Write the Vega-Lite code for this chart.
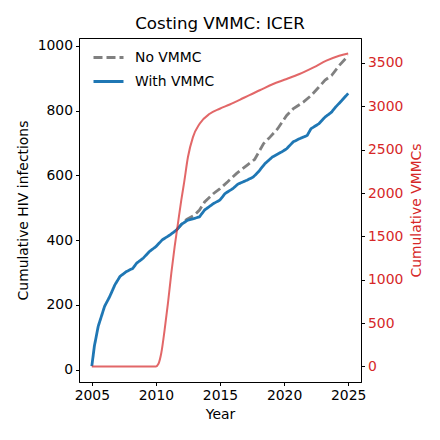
{
  "$schema": "https://vega.github.io/schema/vega-lite/v6.json",
  "width": 282,
  "height": 344,
  "autosize": {"type": "none"},
  "padding": {"left": 79, "top": 38, "right": 79, "bottom": 58},
  "title": {"text": "Costing VMMC: ICER", "fontSize": 16.7, "fontWeight": "normal", "font": "DejaVu Sans", "color": "black", "offset": 5, "anchor": "middle"},
  "config": {
    "font": "DejaVu Sans",
    "background": "white",
    "view": {"stroke": "black", "strokeWidth": 1},
    "axis": {"grid": false, "domainColor": "black", "tickColor": "black", "tickSize": 3.5, "tickWidth": 1, "domainWidth": 1, "labelPadding": 3, "labelFontSize": 13.9, "titleFontSize": 13.9, "titleFontWeight": "normal", "labelColor": "black", "titleColor": "black", "labelFont": "DejaVu Sans", "titleFont": "DejaVu Sans"},
    "legend": {"orient": "none", "legendX": 13, "legendY": 3, "title": null, "symbolType": "stroke", "symbolSize": 900, "symbolStrokeWidth": 2.8, "labelFontSize": 13.9, "labelFont": "DejaVu Sans", "labelColor": "black", "labelOffset": 10, "padding": 0, "rowPadding": -12}
  },
  "datasets": {
    "inf": [
      {"year": 2005.0, "series": "With VMMC", "value": 11},
      {"year": 2005.2, "series": "With VMMC", "value": 73},
      {"year": 2005.5, "series": "With VMMC", "value": 134},
      {"year": 2006.0, "series": "With VMMC", "value": 196},
      {"year": 2006.4, "series": "With VMMC", "value": 226},
      {"year": 2006.8, "series": "With VMMC", "value": 262},
      {"year": 2007.2, "series": "With VMMC", "value": 288},
      {"year": 2007.7, "series": "With VMMC", "value": 303},
      {"year": 2008.2, "series": "With VMMC", "value": 313},
      {"year": 2008.5, "series": "With VMMC", "value": 329},
      {"year": 2009.0, "series": "With VMMC", "value": 344},
      {"year": 2009.5, "series": "With VMMC", "value": 365},
      {"year": 2010.0, "series": "With VMMC", "value": 380},
      {"year": 2010.5, "series": "With VMMC", "value": 401},
      {"year": 2011.1, "series": "With VMMC", "value": 416},
      {"year": 2011.6, "series": "With VMMC", "value": 431},
      {"year": 2012.0, "series": "With VMMC", "value": 449},
      {"year": 2012.5, "series": "With VMMC", "value": 462},
      {"year": 2013.0, "series": "With VMMC", "value": 467},
      {"year": 2013.4, "series": "With VMMC", "value": 472},
      {"year": 2013.8, "series": "With VMMC", "value": 493},
      {"year": 2014.5, "series": "With VMMC", "value": 513},
      {"year": 2015.0, "series": "With VMMC", "value": 524},
      {"year": 2015.4, "series": "With VMMC", "value": 544},
      {"year": 2016.0, "series": "With VMMC", "value": 559},
      {"year": 2016.4, "series": "With VMMC", "value": 573},
      {"year": 2017.1, "series": "With VMMC", "value": 585},
      {"year": 2017.6, "series": "With VMMC", "value": 595},
      {"year": 2018.0, "series": "With VMMC", "value": 611},
      {"year": 2018.5, "series": "With VMMC", "value": 636},
      {"year": 2019.1, "series": "With VMMC", "value": 657},
      {"year": 2019.8, "series": "With VMMC", "value": 672},
      {"year": 2020.2, "series": "With VMMC", "value": 682},
      {"year": 2020.7, "series": "With VMMC", "value": 703},
      {"year": 2021.2, "series": "With VMMC", "value": 713},
      {"year": 2021.8, "series": "With VMMC", "value": 723},
      {"year": 2022.1, "series": "With VMMC", "value": 744},
      {"year": 2022.7, "series": "With VMMC", "value": 759},
      {"year": 2023.2, "series": "With VMMC", "value": 780},
      {"year": 2023.7, "series": "With VMMC", "value": 795},
      {"year": 2024.0, "series": "With VMMC", "value": 810},
      {"year": 2024.5, "series": "With VMMC", "value": 831},
      {"year": 2025.0, "series": "With VMMC", "value": 853},
      {"year": 2011.6, "series": "No VMMC", "value": 431},
      {"year": 2012.0, "series": "No VMMC", "value": 449},
      {"year": 2012.4, "series": "No VMMC", "value": 464},
      {"year": 2013.0, "series": "No VMMC", "value": 477},
      {"year": 2013.4, "series": "No VMMC", "value": 493},
      {"year": 2013.8, "series": "No VMMC", "value": 518},
      {"year": 2014.5, "series": "No VMMC", "value": 544},
      {"year": 2015.0, "series": "No VMMC", "value": 559},
      {"year": 2015.6, "series": "No VMMC", "value": 580},
      {"year": 2016.3, "series": "No VMMC", "value": 606},
      {"year": 2017.1, "series": "No VMMC", "value": 631},
      {"year": 2017.7, "series": "No VMMC", "value": 649},
      {"year": 2018.4, "series": "No VMMC", "value": 698},
      {"year": 2018.9, "series": "No VMMC", "value": 718},
      {"year": 2019.5, "series": "No VMMC", "value": 744},
      {"year": 2020.2, "series": "No VMMC", "value": 785},
      {"year": 2020.7, "series": "No VMMC", "value": 805},
      {"year": 2021.5, "series": "No VMMC", "value": 826},
      {"year": 2022.1, "series": "No VMMC", "value": 846},
      {"year": 2022.7, "series": "No VMMC", "value": 872},
      {"year": 2023.2, "series": "No VMMC", "value": 894},
      {"year": 2023.7, "series": "No VMMC", "value": 908},
      {"year": 2024.3, "series": "No VMMC", "value": 939},
      {"year": 2025.0, "series": "No VMMC", "value": 969}
    ],
    "vmmc": [
      {"year": 2005.0, "vmmc": 0},
      {"year": 2010.0, "vmmc": 0},
      {"year": 2010.2, "vmmc": 30},
      {"year": 2010.42, "vmmc": 154},
      {"year": 2010.68, "vmmc": 422},
      {"year": 2010.94, "vmmc": 729},
      {"year": 2011.2, "vmmc": 1074},
      {"year": 2011.46, "vmmc": 1380},
      {"year": 2011.72, "vmmc": 1650},
      {"year": 2011.98, "vmmc": 1917},
      {"year": 2012.2, "vmmc": 2120},
      {"year": 2012.5, "vmmc": 2415},
      {"year": 2012.89, "vmmc": 2645},
      {"year": 2013.41, "vmmc": 2799},
      {"year": 2014.2, "vmmc": 2914},
      {"year": 2014.98, "vmmc": 2972},
      {"year": 2015.76, "vmmc": 3021},
      {"year": 2016.54, "vmmc": 3075},
      {"year": 2017.3, "vmmc": 3130},
      {"year": 2018.1, "vmmc": 3185},
      {"year": 2019.1, "vmmc": 3255},
      {"year": 2020.2, "vmmc": 3315},
      {"year": 2021.2, "vmmc": 3373},
      {"year": 2022.3, "vmmc": 3450},
      {"year": 2023.3, "vmmc": 3526},
      {"year": 2024.3, "vmmc": 3584},
      {"year": 2025.0, "vmmc": 3610}
    ]
  },
  "layer": [
    {
      "data": {"name": "inf"},
      "encoding": {
        "x": {"field": "year", "type": "quantitative", "scale": {"domain": [2004, 2026], "nice": false, "zero": false}, "axis": {"values": [2005, 2010, 2015, 2020, 2025], "format": "d", "title": "Year", "titlePadding": 5}},
        "y": {"field": "value", "type": "quantitative", "scale": {"domain": [-38, 1024], "nice": false, "zero": false}, "axis": {"values": [0, 200, 400, 600, 800, 1000], "format": "d", "title": "Cumulative HIV infections", "titlePadding": 7}},
        "color": {"field": "series", "type": "nominal", "scale": {"domain": ["No VMMC", "With VMMC"], "range": ["#808080", "#1f77b4"]}},
        "strokeDash": {"field": "series", "type": "nominal", "scale": {"domain": ["No VMMC", "With VMMC"], "range": [[9, 4], [1, 0]]}}
      },
      "layer": [
        {"transform": [{"filter": "datum.series === 'No VMMC'"}], "mark": {"type": "line", "strokeWidth": 2.8}},
        {"transform": [{"filter": "datum.series === 'With VMMC'"}], "mark": {"type": "line", "strokeWidth": 2.8}}
      ]
    },
    {
      "data": {"name": "vmmc"},
      "mark": {"type": "line", "stroke": "#d62728", "strokeWidth": 2, "opacity": 0.7, "interpolate": "monotone"},
      "encoding": {
        "x": {"field": "year", "type": "quantitative", "scale": {"domain": [2004, 2026], "nice": false, "zero": false}},
        "y": {"field": "vmmc", "type": "quantitative", "scale": {"domain": [-180, 3788], "nice": false, "zero": false}, "axis": {"orient": "right", "values": [0, 500, 1000, 1500, 2000, 2500, 3000, 3500], "format": "d", "title": "Cumulative VMMCs", "titleAngle": 270, "labelColor": "#d62728", "titleColor": "#d62728", "titlePadding": 21}}
      }
    }
  ],
  "resolve": {"scale": {"y": "independent"}}
}
